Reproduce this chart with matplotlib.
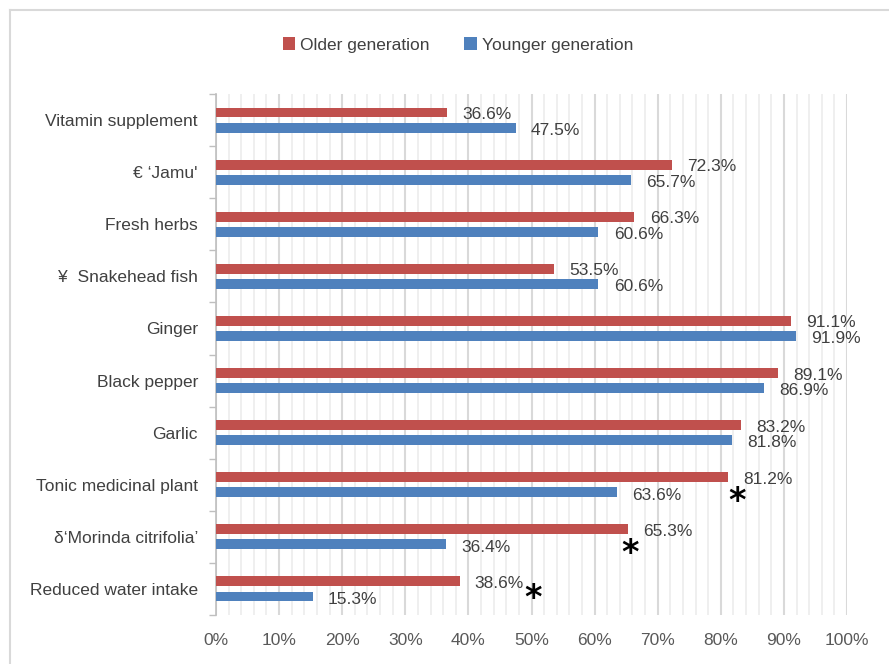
import matplotlib
matplotlib.use("Agg")
import matplotlib.pyplot as plt
from matplotlib import font_manager
from matplotlib.lines import Line2D
from matplotlib.ticker import MultipleLocator, FixedLocator, PercentFormatter
import numpy as np

categories = ["Vitamin supplement", "€ ‘Jamu'", "Fresh herbs", "¥  Snakehead fish",
              "Ginger", "Black pepper", "Garlic", "Tonic medicinal plant",
              "δ‘Morinda citrifolia’", "Reduced water intake"]
older = [36.6, 72.3, 66.3, 53.5, 91.1, 89.1, 83.2, 81.2, 65.3, 38.6]
younger = [47.5, 65.7, 60.6, 60.6, 91.9, 86.9, 81.8, 63.6, 36.4, 15.3]
series_names = ["Older generation", "Younger generation"]
# significance markers: (category index, x position in %, vertical shift within category)
sig_markers = [(7, 82.6, 0.32), (8, 65.6, 0.32), (9, 50.2, 0.19)]

names = {f.name for f in font_manager.fontManager.ttflist}
narrow = "Liberation Sans Narrow" in names
fam = ["Liberation Sans Narrow", "DejaVu Sans"] if narrow else ["Liberation Sans", "DejaVu Sans"]
fs = 15 if narrow else 12.5
plt.rcParams['font.family'] = fam

RED = "#c0504d"
BLUE = "#4f81bd"
TXT = "#404040"

fig = plt.figure(figsize=(8.89, 6.64), dpi=100)
ax = fig.add_axes([216/889, 1-615/664, (847-216)/889, (615-94)/664])

y = np.arange(len(categories))
h = 0.19
off = 0.145
ax.barh(y - off, older, height=h, color=RED, label=series_names[0], zorder=3)
ax.barh(y + off, younger, height=h, color=BLUE, label=series_names[1], zorder=3)

for yi, v in zip(y, older):
    ax.annotate(f"{v:.1f}%", (v, yi - off), xytext=(11, -1.5), textcoords="offset points",
                va="center", ha="left", fontsize=fs, color=TXT, zorder=4)
for yi, v in zip(y, younger):
    ax.annotate(f"{v:.1f}%", (v, yi + off), xytext=(11, -2), textcoords="offset points",
                va="center", ha="left", fontsize=fs, color=TXT, zorder=4)
for ci, xv, dy in sig_markers:
    ax.text(xv, ci + dy, "*", fontsize=24, fontweight="bold", color="black",
            ha="center", va="center", family="DejaVu Sans", zorder=5)

ax.set_xlim(0, 100)
ax.set_ylim(len(categories) - 0.5, -0.5)
ax.set_yticks(y)
ax.set_yticklabels(categories, fontsize=fs, color=TXT)
ax.yaxis.set_minor_locator(FixedLocator(np.arange(-0.5, len(categories), 1)))
ax.tick_params(axis="y", which="major", length=0, pad=13)
ax.tick_params(axis="y", which="minor", length=5, color="#bfbfbf", width=1)

ax.xaxis.set_major_locator(MultipleLocator(10))
ax.xaxis.set_minor_locator(MultipleLocator(2))
ax.xaxis.set_major_formatter(PercentFormatter(decimals=0))
ax.tick_params(axis="x", which="both", length=0, pad=13, labelsize=fs, labelcolor="#595959")
ax.grid(axis="x", which="major", color="#d9d9d9", linewidth=1.5, zorder=0)
ax.grid(axis="x", which="minor", color="#ececec", linewidth=1.2, zorder=0)
ax.set_axisbelow(True)

for s in ["top", "right", "bottom"]:
    ax.spines[s].set_visible(False)
ax.spines["left"].set_color("#bfbfbf")
ax.spines["left"].set_linewidth(1.2)

leg = fig.legend(loc="center", bbox_to_anchor=(458/889, 1-45/664), ncol=2, frameon=False,
                 fontsize=fs, handlelength=0.7, handleheight=0.7, handletextpad=0.3,
                 columnspacing=2.0, labelcolor=TXT)

# outer chart border (top and left)
fig.add_artist(Line2D([10/889, 1], [1-10/664, 1-10/664], transform=fig.transFigure,
                      color="#d9d9d9", linewidth=1.5))
fig.add_artist(Line2D([10/889, 10/889], [0, 1-10/664], transform=fig.transFigure,
                      color="#d9d9d9", linewidth=1.5))

fig.savefig("out.png", dpi=100)
